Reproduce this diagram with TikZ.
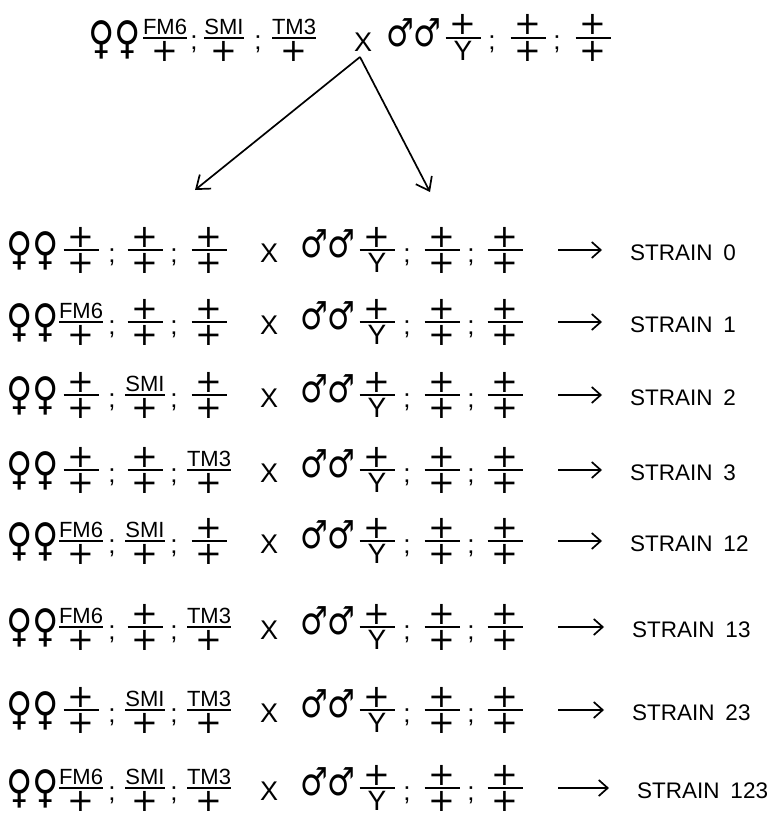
\documentclass[tikz,border=0pt]{standalone}
\usepackage{graphicx}
\usepackage{fontspec}
\setmainfont{Liberation Sans}
\newfontfamily\dvfont{DejaVu Sans}
\usetikzlibrary{arrows.meta}

\newcommand\pl{{\dvfont\fontsize{32}{34}\selectfont +}}
\newcommand\Yc{{\fontsize{28}{30}\selectfont Y}}
\newcommand\fem{{\fontsize{36}{38}\selectfont\scalebox{1}[1.25]{♀♀}}}
\newcommand\mal{\scalebox{1}[1.25]{♂♂}}
\newcommand\gfr[5]{%
  \node[numer] (#1n) at (#2,#3-3) {#4};
  \node[denom] (#1d) at (#2,#3+3) {#5};
  \draw[fbar] ([yshift=-3pt]#1n.south west) -- ([yshift=-3pt]#1n.south east);
}

\tikzset{
  every node/.style={inner sep=0pt, outer sep=0pt},
  numer/.style={anchor=south, minimum width=35pt, font=\fontsize{22}{24}\selectfont},
  denom/.style={anchor=north},
  fbar/.style={line width=1.8pt},
  semi/.style={anchor=base, font=\fontsize{26}{28}\selectfont},
  sex/.style={font=\dvfont\fontsize{31}{33}\selectfont},
  cross/.style={font=\fontsize{27}{29}\selectfont},
  strain/.style={anchor=west, font=\fontsize{22.5}{24}\selectfont},
  sarrow/.style={line width=1.7pt, shorten >=28pt, -{Straight Barb[length=9pt,width=16pt]}},
  carrow/.style={line width=1.7pt, -{Straight Barb[length=12pt,width=18pt]}}
}

\begin{document}
\begin{tikzpicture}[x=1pt,y=-1pt]
\useasboundingbox[fill=white] (0,0) rectangle (781,821);
% parental cross
\node[sex] (ftop) at (115,40) {\fem};
\gfr{t1}{165}{38}{FM6}{\pl}
\node[semi] (ts1) at (194,50) {;};
\gfr{t2}{224}{38}{SMI}{\pl}
\node[semi] (ts2) at (258,50) {;};
\gfr{t3}{294}{38}{TM3}{\pl}
\node[cross] (tx) at (363,42) {X};
\node[sex] (mtop) at (414,33) {\mal};
\gfr{t4}{463}{38}{\pl}{\Yc}
\node[semi] (ts3) at (492,50) {;};
\gfr{t5}{528}{38}{\pl}{\pl}
\node[semi] (ts4) at (557,50) {;};
\gfr{t6}{593}{38}{\pl}{\pl}
\coordinate (apex) at (360,57);
\coordinate (lt) at (195,190);
\coordinate (rt) at (430,192);
\draw[carrow] (apex) -- (lt);
\draw[carrow] (apex) -- (rt);
% strains
\foreach \r/\y/\na/\nb/\nc/\lab/\lx in {
  1/250/\pl/\pl/\pl/0/630,
  2/322/FM6/\pl/\pl/1/630,
  3/395/\pl/SMI/\pl/2/630,
  4/470/\pl/\pl/TM3/3/630,
  5/541/FM6/SMI/\pl/12/630,
  6/627/FM6/\pl/TM3/13/632,
  7/710/\pl/SMI/TM3/23/632,
  8/788/FM6/SMI/TM3/123/637}{
  \node[sex] (f\r) at (33,\y+1) {\fem};
  \gfr{a\r}{81}{\y}{\na}{\pl}
  \node[semi] (sa\r) at (112,\y+12) {;};
  \gfr{b\r}{145}{\y}{\nb}{\pl}
  \node[semi] (sb\r) at (174,\y+12) {;};
  \gfr{c\r}{209}{\y}{\nc}{\pl}
  \node[cross] (x\r) at (269,\y+3) {X};
  \node[sex] (m\r) at (328,\y-6) {\mal};
  \gfr{d\r}{377}{\y}{\pl}{\Yc}
  \node[semi] (sd\r) at (407,\y+12) {;};
  \gfr{e\r}{442}{\y}{\pl}{\pl}
  \node[semi] (se\r) at (471,\y+12) {;};
  \gfr{g\r}{505}{\y}{\pl}{\pl}
  \node[strain] (L\r) at (\lx,\y+3) {STRAIN\hskip 11pt\lab};
  \coordinate (t\r) at (558,\y);
  \draw[sarrow] (t\r) -- (t\r -| L\r.west);
}
\end{tikzpicture}
\end{document}
